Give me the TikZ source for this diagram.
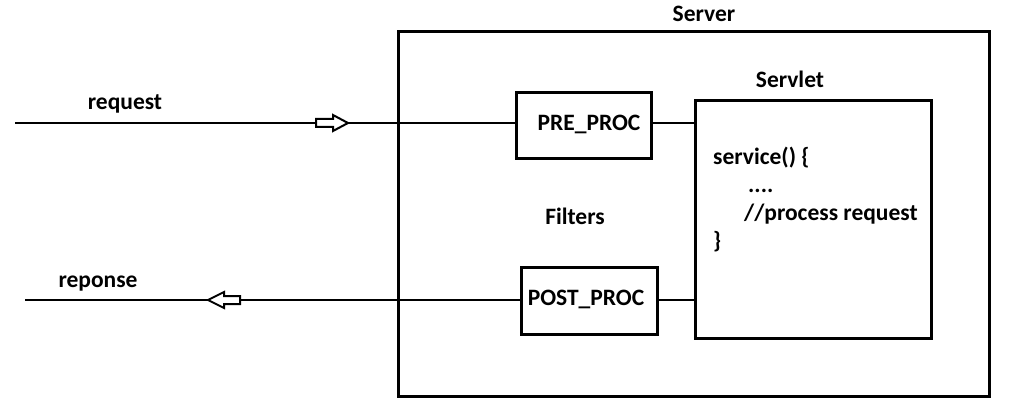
\documentclass[tikz,border=0pt]{standalone}
\usepackage{fontspec}
\setmainfont{Carlito}
\begin{document}
\begin{tikzpicture}[x=1pt,y=-1pt,
  box/.style={draw,line width=2.6pt,inner sep=0pt,anchor=north west},
  lbl/.style={font=\bfseries\fontsize{23.5}{28}\selectfont,inner sep=0pt},
  wire/.style={line width=2.4pt},
  hollow/.style={draw,fill=white,line width=2pt,line join=miter}]
\useasboundingbox (0,0) rectangle (1024,411);
\node[box,minimum width=591pt,minimum height=365pt] (server) at (397,30) {};
\node[lbl] (serverlbl) at (704,14) {Server};
\node[box,minimum width=236pt,minimum height=238pt] (servlet) at (694,99) {};
\node[lbl] (servletlbl) at (790,79) {Servlet};
\node[box,minimum width=135pt,minimum height=66pt] (pre) at (515,91) {};
\node[lbl] (pretxt) at (589,124) {PRE\_PROC};
\node[box,minimum width=136pt,minimum height=67pt] (post) at (520,266) {};
\node[lbl] (posttxt) at (586,299) {POST\_PROC};
\node[lbl] (filters) at (575,216) {Filters};
\node[lbl,anchor=base west,align=left] (code) at (713,249)
  {service() \{\\\hspace*{35pt}....\\\hspace*{31pt}//process request\\\}};
\node[lbl] (reqlbl) at (125,104) {request};
\node[lbl] (resplbl) at (98,284) {reponse};
\coordinate (reqstart) at (15,123);
\coordinate (respend) at (25,300);
\draw[wire] (reqstart) -- (pre.west |- 0,123);
\draw[wire] (pre.east |- 0,123) -- (servlet.west |- 0,123);
\draw[wire] (respend) -- (post.west |- 0,300);
\draw[wire] (post.east |- 0,300) -- (servlet.west |- 0,300);
% hollow arrows
\path[hollow] (316,119) -- (333,119) -- (333,115) -- (348,123) -- (333,131) -- (333,127) -- (316,127) -- cycle;
\path[hollow] (240,296) -- (224,296) -- (224,292) -- (208,300) -- (224,308) -- (224,304) -- (240,304) -- cycle;
\end{tikzpicture}
\end{document}
